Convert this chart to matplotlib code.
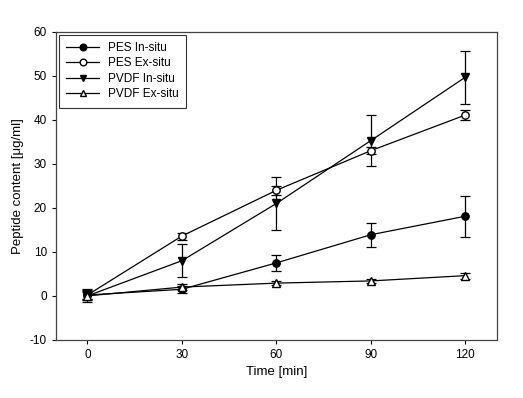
import matplotlib
matplotlib.use("Agg")
import matplotlib.pyplot as plt

plt.rcParams['font.family'] = ['Liberation Sans', 'DejaVu Sans']
plt.rcParams['axes.unicode_minus'] = False

tiempo = [0, 30, 60, 90, 120]

pes_in = [0.2, 1.5, 7.5, 13.9, 18.1]
pes_in_err = [1.2, 0.8, 1.8, 2.7, 4.7]

pes_ex = [0.2, 13.6, 24.0, 33.0, 41.1]
pes_ex_err = [1.0, 0.8, 1.0, 0.8, 1.2]

pvdf_in = [0.0, 8.0, 21.0, 35.3, 49.7]
pvdf_in_err = [1.5, 3.7, 6.0, 5.8, 6.0]

pvdf_ex = [0.0, 2.0, 2.9, 3.4, 4.6]
pvdf_ex_err = [0.8, 0.6, 0.5, 0.4, 0.7]

fig = plt.figure(figsize=(5.23, 3.98), dpi=100)
ax = fig.add_axes([0.107, 0.146, 0.843, 0.774])

estilo = dict(color='black', lw=0.9, ms=5.3, capsize=3.5, elinewidth=0.9, capthick=0.9)
c1 = ax.errorbar(tiempo, pes_in, yerr=pes_in_err, marker='o', mfc='black', mec='black', **estilo)
c2 = ax.errorbar(tiempo, pes_ex, yerr=pes_ex_err, marker='o', mfc='white', mec='black', **estilo)
c3 = ax.errorbar(tiempo, pvdf_in, yerr=pvdf_in_err, marker='v', mfc='black', mec='black', **estilo)
c4 = ax.errorbar(tiempo, pvdf_ex, yerr=pvdf_ex_err, marker='^', mfc='white', mec='black', **estilo)

ax.set_xlim(-10, 130)
ax.set_ylim(-10, 60)
ax.set_xticks(tiempo)
ax.set_yticks(range(-10, 61, 10))
ax.tick_params(direction='out', length=3, labelsize=8.5, top=False, right=False)
for s in ax.spines.values():
    s.set_linewidth(0.9)
    s.set_color('#444444')

ax.set_xlabel('Time [min]', fontsize=9.5)
ax.set_ylabel('Peptide content [μg/ml]', fontsize=9.5)

lineas = [c[0] for c in (c1, c2, c3, c4)]
nombres = ['PES In-situ', 'PES Ex-situ', 'PVDF In-situ', 'PVDF Ex-situ']
leg = ax.legend(lineas, nombres, loc='upper left', fontsize=8.5, frameon=True, fancybox=False,
                edgecolor='black', borderaxespad=0.25, handlelength=2.8,
                labelspacing=0.3, borderpad=0.6, markerscale=0.9)
leg.get_frame().set_linewidth(0.8)

fig.savefig('out.png', dpi=100)
